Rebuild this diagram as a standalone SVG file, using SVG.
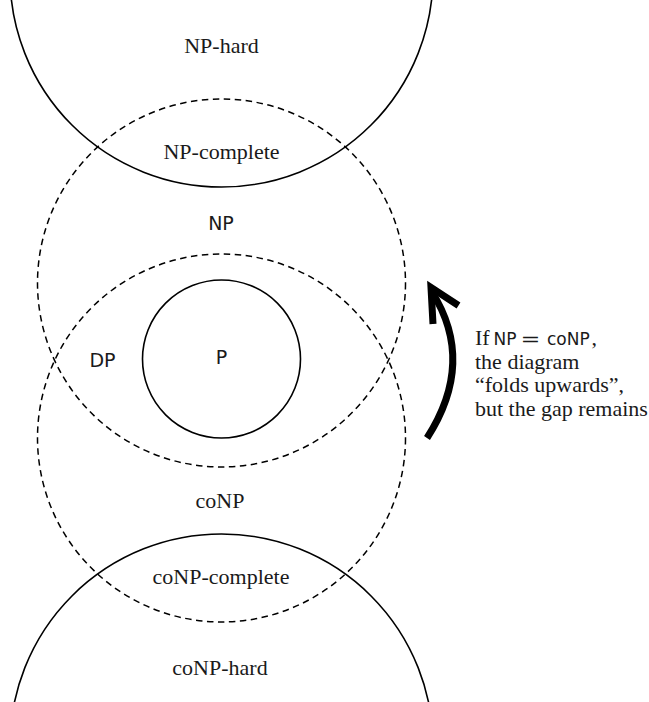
<svg xmlns="http://www.w3.org/2000/svg" width="649" height="702" viewBox="0 0 649 702">
<style>
.solid{fill:none;stroke:#000;stroke-width:1.6}
.dash{fill:none;stroke:#000;stroke-width:1.5;stroke-dasharray:6.5 4.5}
.serif{font-family:"Liberation Serif","Times New Roman",serif;font-size:22px;fill:#1a1a1a}
.sans{font-family:"DejaVu Sans","Liberation Sans",sans-serif;font-size:19px;fill:#1a1a1a}
.msans{font-family:"DejaVu Sans","Liberation Sans",sans-serif;font-size:17px;fill:#1a1a1a}
.mid{text-anchor:middle}
.arrow{fill:none;stroke:#000;stroke-width:7}
</style>
<rect width="649" height="702" fill="#fff"/>
<g id="np-hard">
<circle class="solid" cx="221.5" cy="-24.5" r="211.5"/>
<text class="serif mid" x="221.5" y="53">NP-hard</text>
</g>
<g id="co-np-hard">
<circle class="solid" cx="221.5" cy="745.5" r="211.5"/>
<text class="serif mid" x="220" y="674.5">coNP-hard</text>
</g>
<g id="np">
<circle class="dash" cx="221.5" cy="283" r="184"/>
<text class="sans mid" x="221" y="230">NP</text>
</g>
<g id="co-np">
<circle class="dash" cx="221.5" cy="438" r="184"/>
<text class="serif mid" x="220" y="508">coNP</text>
</g>
<g id="np-complete">
<text class="serif mid" x="221.5" y="159">NP-complete</text>
</g>
<g id="co-np-complete">
<text class="serif mid" x="221" y="583.5">coNP-complete</text>
</g>
<g id="dp">
<text class="sans mid" x="102.5" y="366.5">DP</text>
</g>
<g id="p">
<circle class="solid" cx="221.5" cy="359" r="79"/>
<text class="sans mid" x="221.5" y="363.5">P</text>
</g>
<g id="connectors">
<path class="arrow" d="M427 438 Q476 362 432 292" stroke-linecap="butt"/>
<polyline class="arrow" points="433,324 431,287.5 458.5,305.5" stroke-linejoin="miter" stroke-miterlimit="10"/>
</g>
<g id="note">
<text class="serif" x="475" y="344.5">If</text>
<text class="msans" x="493.5" y="344.5">NP</text>
<text class="msans" transform="translate(520.5 344.5) scale(1.4 1)" x="0" y="0">=</text>
<text class="msans" x="547" y="344.5">coNP</text>
<text class="serif" x="591.5" y="344.5">,</text>
<text class="serif" x="475" y="368.5">the diagram</text>
<text class="serif" x="475" y="392">“folds upwards”,</text>
<text class="serif" x="475" y="415.5">but the gap remains</text>
</g>
</svg>
